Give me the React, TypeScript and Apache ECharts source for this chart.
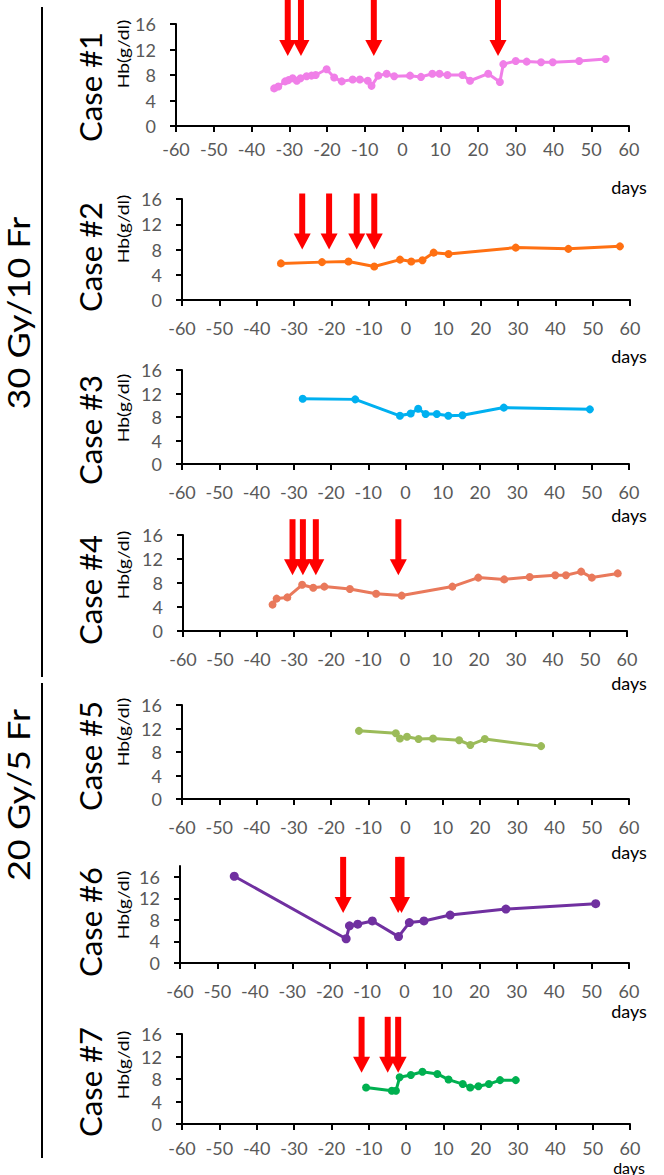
import React, { useEffect, useRef } from "react";
import * as echarts from "echarts";

// ---------- data ----------
const xMin = -60;
const xMax = 60;
const xStep = 10;
const yStep = 4;
const yTickValues = [0, 4, 8, 12, 16];

const caseLabels = ["Case #1", "Case #2", "Case #3", "Case #4", "Case #5", "Case #6", "Case #7"];
const groupLabels = ["30 Gy/10 Fr", "20 Gy/5 Fr"];
const yAxisTitle = "Hb(g/dl)";
const xAxisTitle = "days";

const case1 = [
  [-34.0, 5.9], [-32.9, 6.2], [-31.1, 7.0], [-30.2, 7.2], [-29.1, 7.5], [-28.0, 7.1],
  [-27.0, 7.5], [-25.4, 7.8], [-24.1, 7.9], [-23.0, 8.0], [-20.1, 8.9], [-18.1, 7.6],
  [-16.1, 7.0], [-13.2, 7.3], [-11.3, 7.3], [-9.2, 7.1], [-8.2, 6.3], [-6.4, 7.9],
  [-4.2, 8.2], [-2.2, 7.8], [2.0, 7.9], [4.9, 7.7], [7.9, 8.2], [9.8, 8.2],
  [11.9, 8.0], [15.9, 8.0], [17.9, 7.1], [22.7, 8.2], [25.8, 6.9], [26.7, 9.7],
  [30.0, 10.2], [32.9, 10.1], [36.7, 10.0], [39.8, 10.0], [46.8, 10.2], [53.8, 10.5],
];
const case2 = [
  [-33.5, 5.8], [-22.5, 6.0], [-15.4, 6.1], [-8.5, 5.3], [-1.6, 6.4], [1.4, 6.1],
  [4.4, 6.3], [7.4, 7.5], [11.4, 7.3], [29.4, 8.3], [43.5, 8.1], [57.3, 8.5],
];
const case3 = [
  [-27.6, 11.1], [-13.5, 11.0], [-1.5, 8.2], [1.4, 8.6], [3.4, 9.4], [5.4, 8.5],
  [8.4, 8.5], [11.5, 8.2], [15.3, 8.3], [26.4, 9.6], [49.5, 9.3],
];
const case4 = [
  [-35.8, 4.4], [-34.7, 5.4], [-31.8, 5.6], [-27.8, 7.7], [-24.8, 7.2], [-21.8, 7.4],
  [-14.9, 7.0], [-7.8, 6.2], [-0.9, 5.9], [12.8, 7.4], [19.8, 8.9], [26.8, 8.6],
  [33.7, 9.0], [40.6, 9.3], [43.5, 9.3], [47.6, 9.9], [50.5, 8.9], [57.5, 9.6],
];
const case5 = [
  [-12.5, 11.6], [-2.6, 11.2], [-1.5, 10.3], [0.4, 10.6], [3.5, 10.2], [7.4, 10.3],
  [14.4, 10.0], [17.4, 9.2], [21.3, 10.2], [36.4, 9.0],
];
const case6 = [
  [-45.5, 16.1], [-15.6, 4.5], [-14.7, 6.9], [-12.5, 7.2], [-8.6, 7.8], [-1.6, 4.9],
  [1.3, 7.5], [5.2, 7.8], [12.2, 8.9], [27.1, 10.0], [51.1, 11.0],
];
const case7 = [
  [-10.7, 6.5], [-3.8, 5.9], [-2.7, 5.9], [-1.7, 8.3], [1.3, 8.7], [4.4, 9.3],
  [8.4, 8.9], [11.4, 7.9], [15.2, 7.1], [17.2, 6.5], [19.4, 6.7], [22.2, 7.1],
  [25.2, 7.8], [29.4, 7.8],
];

// treatment arrows: [day, Hb level of the arrow tip]
const arrows1 = [[-30.4, 11.0], [-26.9, 11.0], [-7.6, 11.0], [25.3, 11.0]];
const arrows2 = [[-27.8, 8.0], [-20.6, 8.0], [-13.2, 8.0], [-8.5, 8.0]];
const arrows4 = [[-30.4, 9.3], [-27.6, 9.3], [-24.1, 9.3], [-1.8, 9.3]];
const arrows6 = [[-16.4, 9.3], [-1.7, 9.3], [-0.8, 9.3]];
const arrows7 = [[-11.9, 9.1], [-4.9, 9.1], [-2.1, 9.1]];

const yMaxes = [16, 16, 16, 16, 16, 18, 16];
const seriesData = [case1, case2, case3, case4, case5, case6, case7];
const arrowData = [arrows1, arrows2, null, arrows4, null, arrows6, arrows7];

// ---------- styles / layout ----------
const colors = ["#F07FE8", "#FF7012", "#00B0F0", "#E9795B", "#9BBB59", "#7030A0", "#00B050"];
const grids = [
  { left: 176, top: 24, width: 453, height: 102 },
  { left: 182, top: 199, width: 448, height: 101 },
  { left: 182, top: 370, width: 447, height: 94 },
  { left: 183, top: 535, width: 444, height: 96 },
  { left: 182, top: 705, width: 447, height: 94 },
  { left: 180, top: 866, width: 449, height: 97 },
  { left: 182, top: 1034, width: 448, height: 90 },
];
const xLabelMargins = [14, 19, 19, 19, 19, 19, 15];
const caseY = [87, 257, 430, 590, 756, 922, 1082];
const hbY = [54, 229, 408, 565, 732, 905, 1065];
const daysY = [187, 356, 515, 683, 852, 1011, 1167];
const daysSize = [18, 18, 18, 18, 18, 18, 16];
const symbolSizes = [8, 8, 8, 8, 8, 9, 8];

const FONT = "Lato, 'Open Sans', sans-serif";
const GRAY = "#595959";

export default function App() {
  const ref = useRef<HTMLDivElement>(null);

  useEffect(() => {
    if (!ref.current) return;
    const chart = echarts.init(ref.current, undefined, { renderer: "svg" });

    const grid: any[] = [];
    const xAxis: any[] = [];
    const yAxis: any[] = [];
    const series: any[] = [];
    const graphic: any[] = [];

    grids.forEach((g, i) => {
      grid.push({ ...g, containLabel: false, outerBoundsMode: "none" });
      xAxis.push({
        type: "value",
        gridIndex: i,
        min: xMin,
        max: xMax,
        interval: xStep,
        axisLine: { show: true, onZero: false, lineStyle: { color: "#000", width: 2 } },
        axisTick: { show: true, inside: false, length: 6, lineStyle: { color: "#000", width: 2 } },
        axisLabel: { color: GRAY, fontSize: 18, fontFamily: FONT, margin: xLabelMargins[i] },
        splitLine: { show: false },
      });
      yAxis.push({
        type: "value",
        gridIndex: i,
        min: 0,
        max: yMaxes[i],
        interval: yStep,
        axisLine: { show: true, onZero: false, lineStyle: { color: "#000", width: 2 } },
        axisTick: {
          show: true,
          inside: false,
          length: 6,
          customValues: yTickValues,
          lineStyle: { color: "#000", width: 2 },
        },
        axisLabel: {
          color: GRAY,
          fontSize: 18,
          fontFamily: FONT,
          margin: 20,
          customValues: yTickValues,
        },
        splitLine: { show: false },
      });
      series.push({
        type: "line",
        xAxisIndex: i,
        yAxisIndex: i,
        data: seriesData[i],
        symbol: "circle",
        symbolSize: symbolSizes[i],
        showSymbol: true,
        lineStyle: { color: colors[i], width: 3 },
        itemStyle: { color: colors[i] },
        z: 2,
      });
      const arr = arrowData[i];
      if (arr) {
        series.push({
          type: "custom",
          coordinateSystem: "cartesian2d",
          xAxisIndex: i,
          yAxisIndex: i,
          data: arr,
          encode: { x: 0, y: 1 },
          clip: false,
          z: 5,
          renderItem: (_params: any, api: any) => {
            const p = api.coord([api.value(0), api.value(1)]);
            const x = p[0];
            const y = p[1];
            return {
              type: "group",
              children: [
                {
                  type: "rect",
                  shape: { x: x - 3, y: y - 56, width: 6, height: 42 },
                  style: { fill: "#FF0000" },
                },
                {
                  type: "polygon",
                  shape: { points: [[x - 8.5, y - 16], [x + 8.5, y - 16], [x, y]] },
                  style: { fill: "#FF0000" },
                },
              ],
            };
          },
        });
      }

      graphic.push({
        type: "text",
        x: 90,
        y: caseY[i],
        rotation: Math.PI / 2,
        style: {
          text: caseLabels[i],
          fontSize: 31,
          fontFamily: FONT,
          fill: "#000",
          align: "center",
          verticalAlign: "middle",
        },
      });
      graphic.push({
        type: "text",
        x: 123,
        y: hbY[i],
        rotation: Math.PI / 2,
        scaleX: 1.2,
        style: {
          text: yAxisTitle,
          fontSize: 16,
          fontFamily: FONT,
          fill: "#000",
          align: "center",
          verticalAlign: "middle",
        },
      });
      graphic.push({
        type: "text",
        x: 629,
        y: daysY[i],
        style: {
          text: xAxisTitle,
          fontSize: daysSize[i],
          fontFamily: FONT,
          fill: "#000",
          align: "center",
          verticalAlign: "middle",
        },
      });
    });

    graphic.push({
      type: "line",
      shape: { x1: 42, y1: 7, x2: 42, y2: 677 },
      style: { stroke: "#000", lineWidth: 2 },
    });
    graphic.push({
      type: "line",
      shape: { x1: 42, y1: 683, x2: 42, y2: 1158 },
      style: { stroke: "#000", lineWidth: 2 },
    });
    [313, 795].forEach((cy, k) => {
      graphic.push({
        type: "text",
        x: 18,
        y: cy,
        rotation: Math.PI / 2,
        scaleX: 1.2,
        style: {
          text: groupLabels[k],
          fontSize: 30,
          fontFamily: FONT,
          fill: "#000",
          align: "center",
          verticalAlign: "middle",
        },
      });
    });

    chart.setOption({
      animation: false,
      backgroundColor: "#fff",
      grid,
      xAxis,
      yAxis,
      series,
      graphic,
    });

    return () => {
      chart.dispose();
    };
  }, []);

  return (
    <div
      ref={ref}
      style={{ position: "absolute", left: 0, top: 0, width: 664, height: 1175 }}
    />
  );
}
